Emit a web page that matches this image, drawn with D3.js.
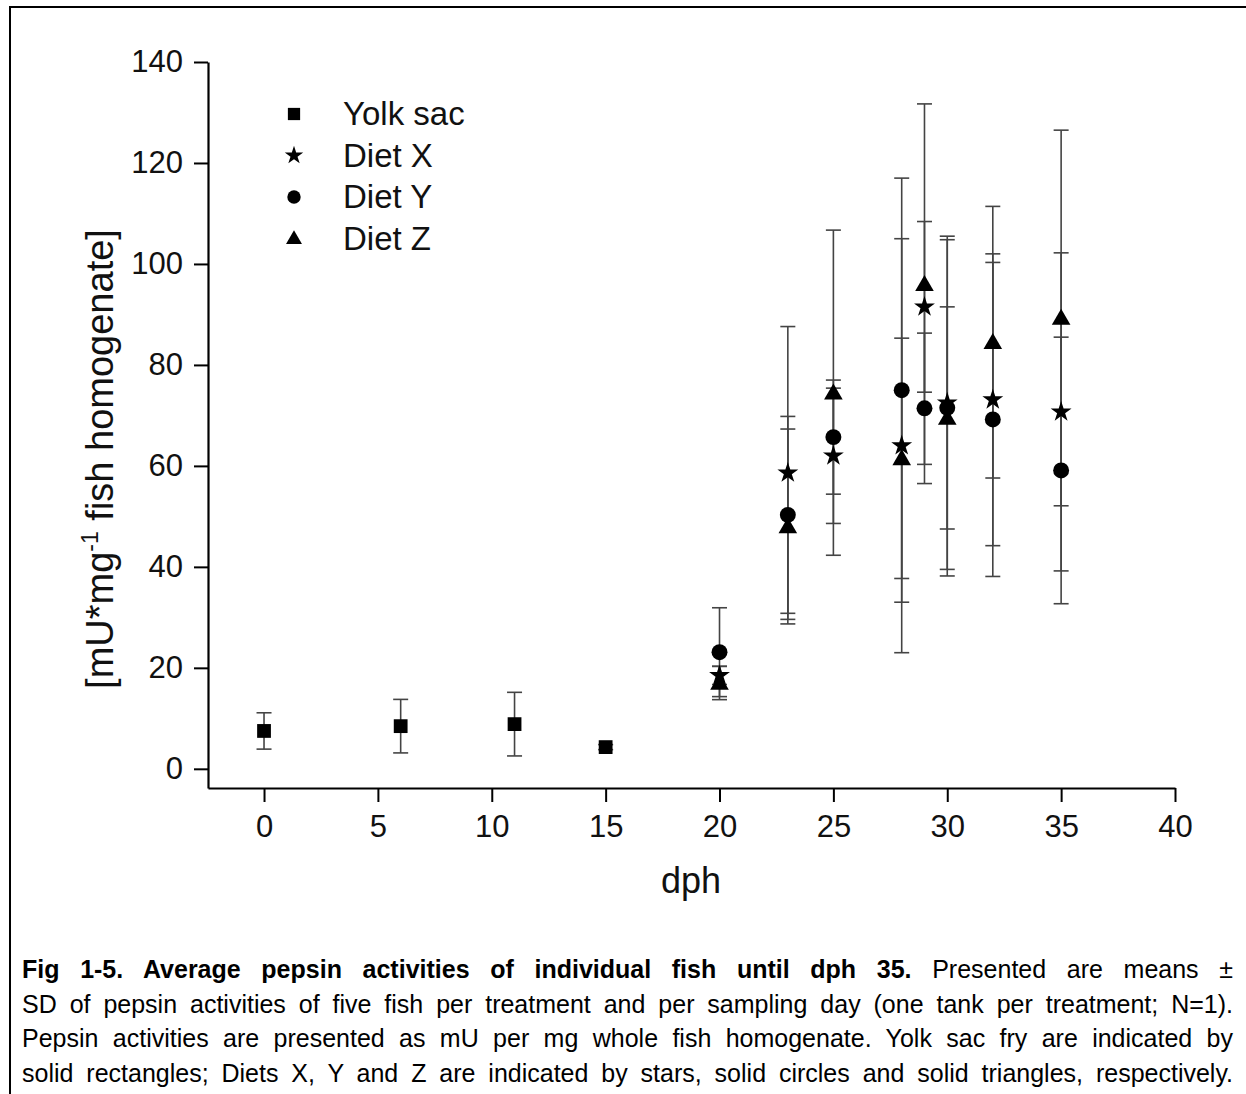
<!DOCTYPE html>
<html>
<head>
<meta charset="utf-8">
<script src="https://cdn.jsdelivr.net/npm/d3@7"></script>
<style>
  html, body { margin: 0; padding: 0; background: #fff; }
  body { width: 1246px; height: 1094px; position: relative; overflow: hidden; font-family: "Liberation Sans", Arial, sans-serif; }
  #caption { position: absolute; left: 22px; top: 952px; width: 1211px; font-size: 25px; line-height: 34.6px; color: #000; }
  #caption div { text-align: justify; text-align-last: justify; white-space: nowrap; }
</style>
</head>
<body>
<svg id="chart" width="1246" height="1094" style="position:absolute;left:0;top:0"></svg>
<div id="caption"></div>
<script>
// ---------- data ----------
const xTicks = [0, 5, 10, 15, 20, 25, 30, 35, 40];
const yTicks = [0, 20, 40, 60, 80, 100, 120, 140];

const yolkDph  = [0, 6, 11, 15];
const yolkMean = [7.5, 8.45, 8.85, 4.3];
const yolkSd   = [3.6, 5.3, 6.3, 0.5];

const dietDph   = [20, 23, 25, 28, 29, 30, 32, 35];
const dietXMean = [18.5, 58.6, 62.0, 64.0, 91.5, 72.5, 73.1, 70.7];
const dietXSd   = [1.8, 29.0, 13.4, 41.0, 16.9, 33.0, 28.9, 31.5];
const dietYMean = [23.1, 50.3, 65.7, 75.0, 71.4, 71.5, 69.2, 59.1];
const dietYSd   = [8.8, 19.5, 11.3, 42.0, 14.9, 33.3, 31.1, 26.4];
const dietZMean = [17.0, 48.0, 74.5, 61.5, 96.0, 69.5, 84.5, 89.3];
const dietZSd   = [3.3, 19.3, 32.2, 23.8, 35.7, 22.0, 26.9, 37.2];

const seriesNames = ["Yolk sac", "Diet X", "Diet Y", "Diet Z"];

const captionBold = "Fig 1-5. Average pepsin activities of individual fish until dph 35.";
const captionLines = [
  " Presented are means \u00b1",
  "SD of pepsin activities of five fish per treatment and per sampling day (one tank per treatment; N=1).",
  "Pepsin activities are presented as mU per mg whole fish homogenate. Yolk sac fry are indicated by",
  "solid rectangles; Diets X, Y and Z are indicated by stars, solid circles and solid triangles, respectively."
];

// ---------- build ----------
const series = [
  {name: seriesNames[0], sym: d3.symbolSquare,   size: 190, lsize: 150, pts: yolkDph.map((d,i)=>({x:d, m:yolkMean[i], s:yolkSd[i]}))},
  {name: seriesNames[1], sym: d3.symbolStar,     size: 135, lsize: 105, pts: dietDph.map((d,i)=>({x:d, m:dietXMean[i], s:dietXSd[i]}))},
  {name: seriesNames[2], sym: d3.symbolCircle,   size: 200, lsize: 140, pts: dietDph.map((d,i)=>({x:d, m:dietYMean[i], s:dietYSd[i]}))},
  {name: seriesNames[3], sym: d3.symbolTriangle, size: 150, lsize: 110, pts: dietDph.map((d,i)=>({x:d, m:dietZMean[i], s:dietZSd[i]}))}
];

const svg = d3.select("#chart");
const font = '"Liberation Sans", Arial, sans-serif';

// outer frame
svg.append("rect").attr("x", 10).attr("y", 7).attr("width", 1260).attr("height", 1120)
  .attr("fill", "none").attr("stroke", "#000").attr("stroke-width", 2);

const x = d3.scaleLinear().domain([-2.46, 40]).range([208, 1175]);
const y = d3.scaleLinear().domain([-3.8, 140]).range([788, 62]);

const xAxis = svg.append("g").attr("transform", "translate(0,788)")
  .call(d3.axisBottom(x).tickValues(xTicks).tickSize(14).tickSizeOuter(0).tickPadding(13).tickFormat(d3.format("d")));
const yAxis = svg.append("g").attr("transform", "translate(208,0)")
  .call(d3.axisLeft(y).tickValues(yTicks).tickSize(14).tickSizeOuter(0).tickPadding(11).tickFormat(d3.format("d")));
[xAxis, yAxis].forEach(g => {
  g.select(".domain").attr("stroke", "#000").attr("stroke-width", 2.2);
  g.selectAll(".tick line").attr("stroke", "#000").attr("stroke-width", 2);
  g.selectAll(".tick text").attr("fill", "#111").style("font-family", font).style("font-size", "31px");
});

// error bars
const cap = 7.5;
const eb = svg.append("g").attr("stroke", "#444").attr("stroke-width", 1.6);
series.forEach(s => {
  s.pts.forEach(p => {
    const cx = x(p.x), y1 = y(p.m - p.s), y2 = y(p.m + p.s);
    eb.append("line").attr("x1", cx).attr("x2", cx).attr("y1", y1).attr("y2", y2);
    eb.append("line").attr("x1", cx - cap).attr("x2", cx + cap).attr("y1", y1).attr("y2", y1);
    eb.append("line").attr("x1", cx - cap).attr("x2", cx + cap).attr("y1", y2).attr("y2", y2);
  });
});

// markers
series.forEach(s => {
  svg.append("g").selectAll("path").data(s.pts).join("path")
    .attr("d", d3.symbol().type(s.sym).size(s.size))
    .attr("transform", p => `translate(${x(p.x)},${y(p.m) + (s.sym === d3.symbolTriangle ? 1.5 : 0)})`)
    .attr("fill", "#000");
});

// legend
const leg = svg.append("g");
series.forEach((s, i) => {
  const cy = 114 + i * 41.5;
  leg.append("path").attr("d", d3.symbol().type(s.sym).size(s.lsize))
    .attr("transform", `translate(294,${cy + (s.sym === d3.symbolTriangle ? 1 : 0)})`).attr("fill", "#000");
  leg.append("text").attr("x", 343).attr("y", cy + 11).text(s.name)
    .style("font-family", font).style("font-size", "33px").attr("fill", "#111");
});

// axis titles
svg.append("text").attr("x", 691).attr("y", 893).attr("text-anchor", "middle")
  .style("font-family", font).style("font-size", "36px").attr("fill", "#111").text("dph");

const yt = svg.append("text").attr("transform", "translate(113,459) rotate(-90)").attr("text-anchor", "middle")
  .style("font-family", font).style("font-size", "38px").attr("fill", "#111");
yt.append("tspan").text("[mU*mg");
yt.append("tspan").attr("dy", -15).style("font-size", "23px").text("-1");
yt.append("tspan").attr("dy", 15).text(" fish homogenate]");

// caption
const capDiv = d3.select("#caption");
const l1 = capDiv.append("div");
l1.append("b").text(captionBold);
l1.append("span").text(captionLines[0]);
captionLines.slice(1).forEach(t => capDiv.append("div").text(t));
</script>
</body>
</html>
